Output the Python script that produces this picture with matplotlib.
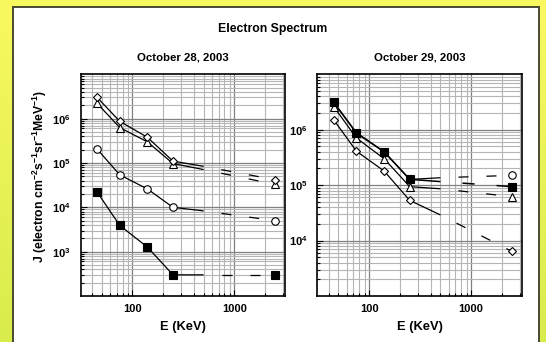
import numpy as np
import matplotlib
matplotlib.use("Agg")
import matplotlib.pyplot as plt
from matplotlib.colors import LinearSegmentedColormap
from matplotlib.patches import Rectangle
from matplotlib.ticker import FixedLocator, LogLocator, NullFormatter, FuncFormatter

plt.rcParams['font.family'] = ['Liberation Sans', 'DejaVu Sans']
plt.rcParams['font.weight'] = 'bold'
plt.rcParams['mathtext.fontset'] = 'custom'
plt.rcParams['mathtext.rm'] = 'Liberation Sans:bold'
plt.rcParams['mathtext.bf'] = 'Liberation Sans:bold'
plt.rcParams['mathtext.it'] = 'Liberation Sans:bold'
plt.rcParams['mathtext.default'] = 'bf'

# ---------------- data ----------------
energy = [45, 75, 140, 250, 500, 2500]          # keV
marker_idx = [0, 1, 2, 3, 5]                    # points shown with markers

oct28_diamond = [3.0e6, 8.7e5, 3.8e5, 1.1e5, 8.4e4, 4.2e4]
oct28_triangle = [2.2e6, 6.3e5, 3.0e5, 9.7e4, 7.1e4, 3.3e4]
oct28_circle = [2.05e5, 5.4e4, 2.6e4, 1.0e4, 8.3e3, 5.0e3]
oct28_square = [2.2e4, 3.9e3, 1.27e3, 3.0e2, 3.0e2, 3.0e2]

oct29_circle = [3.1e6, 8.8e5, 4.0e5, 1.27e5, 1.36e5, 1.5e5]
oct29_square = [3.1e6, 8.7e5, 4.0e5, 1.27e5, 1.16e5, 9.4e4]
oct29_triangle = [2.6e6, 7.1e5, 3.0e5, 9.4e4, 8.6e4, 6.2e4]
oct29_diamond = [1.5e6, 4.1e5, 1.8e5, 5.3e4, 2.9e4, 6.4e3]

title = "Electron Spectrum"
subtitles = ["October 28, 2003", "October 29, 2003"]
xlabel = "E (KeV)"
ylabel = r"J (electron cm$^{-2}$s$^{-1}$sr$^{-1}$MeV$^{-1}$)"
x_ticks = [100, 1000]
y_ticks_left = [1e3, 1e4, 1e5, 1e6]
y_ticks_right = [1e4, 1e5, 1e6]

W, H = 546, 342
fig = plt.figure(figsize=(W / 100, H / 100), dpi=100)

# background gradient + white framed panel
bg = fig.add_axes([0, 0, 1, 1], zorder=-10)
bg.set_xlim(0, 1); bg.set_ylim(0, 1); bg.axis('off')
cmap = LinearSegmentedColormap.from_list('yel', ['#f9f95f', '#d8ec4c'])
bg.imshow(np.linspace(0, 1, 256)[:, None], aspect='auto', cmap=cmap,
          extent=[0, 1, 0, 1], origin='upper')
bg.add_patch(Rectangle((13 / W, -0.05), (539 - 13) / W, (H - 7) / H + 0.05,
                       facecolor='white', edgecolor='#3c3c28', lw=1.3,
                       transform=bg.transAxes))

fig.text(273 / W, 1 - 29 / H, title, ha='center', va='center', fontsize=8.8, weight='bold')


def px_axes(x0, x1, y0, y1):
    return [x0 / W, 1 - y1 / H, (x1 - x0) / W, (y1 - y0) / H]


LW = 0.9
dash = (8.0, (8.0, 14.4))


def plot_series(ax, vals, marker, fc, ms, lw=LW, z=3):
    ax.plot(energy[:5], vals[:5], color='black', lw=lw, zorder=z, solid_capstyle='butt')
    ax.plot(energy[4:], vals[4:], color='black', lw=lw, ls=dash, zorder=z)
    ax.plot([energy[i] for i in marker_idx], [vals[i] for i in marker_idx],
            ls='none', marker=marker, ms=ms, mfc=fc, mec='black', mew=0.8, zorder=z + 1)


def fmt_pow(v, pos):
    return r'$10^{%d}$' % int(round(np.log10(v)))


def style(ax, ylim, yticks):
    ax.set_xscale('log'); ax.set_yscale('log')
    ax.set_xlim(31, 3150)
    ax.set_ylim(*ylim)
    ax.xaxis.set_major_locator(FixedLocator(x_ticks))
    ax.xaxis.set_major_formatter(FuncFormatter(lambda v, p: '%d' % v))
    ax.xaxis.set_minor_locator(LogLocator(base=10, subs=np.arange(2, 10)))
    ax.xaxis.set_minor_formatter(NullFormatter())
    ax.yaxis.set_major_locator(FixedLocator(yticks))
    ax.yaxis.set_major_formatter(FuncFormatter(fmt_pow))
    ax.yaxis.set_minor_locator(LogLocator(base=10, subs=np.arange(2, 10), numticks=20))
    ax.yaxis.set_minor_formatter(NullFormatter())
    ax.grid(True, which='minor', color='#b5b5b5', lw=0.8, zorder=0)
    ax.grid(True, which='major', color='#808080', lw=0.9, zorder=0)
    ax.tick_params(which='both', direction='in', top=False, right=False,
                   labelsize=8, width=0.8, color='black')
    ax.tick_params(which='major', length=4)
    ax.tick_params(axis='x', which='major', pad=6)
    ax.tick_params(axis='y', which='major', pad=7)
    ax.tick_params(which='minor', length=2.5)
    for s in ax.spines.values():
        s.set_linewidth(1.2)
    ax.set_axisbelow(True)
    for lab in ax.get_xticklabels() + ax.get_yticklabels():
        lab.set_fontweight('bold')
    ax.set_xlabel(xlabel, fontsize=9.3, weight='bold', labelpad=5)


ax1 = fig.add_axes(px_axes(80.7, 285, 74.3, 296))
style(ax1, (1e2, 1e7), y_ticks_left)
plot_series(ax1, oct28_square, 's', 'black', 5.6)
plot_series(ax1, oct28_circle, 'o', 'white', 5.4)
plot_series(ax1, oct28_triangle, '^', 'white', 5.4)
plot_series(ax1, oct28_diamond, 'D', 'white', 4.4, z=5)

ax2 = fig.add_axes(px_axes(317.3, 522, 74.3, 296))
style(ax2, (1e3, 1e7), y_ticks_right)
plot_series(ax2, oct29_diamond, 'D', 'white', 4.4)
plot_series(ax2, oct29_triangle, '^', 'white', 5.4)
plot_series(ax2, oct29_circle, 'o', 'white', 5.4, z=5)
plot_series(ax2, oct29_square, 's', 'black', 5.6, lw=1.1, z=7)

for ax, sub in zip([ax1, ax2], subtitles):
    bb = ax.get_position()
    fig.text((bb.x0 + bb.x1) / 2, 1 - 58 / H, sub, ha='center', va='center',
             fontsize=8.2, weight='bold')

fig.text(40 / W, 1 - 176 / H, ylabel, rotation=90, ha='center', va='center',
         fontsize=8.8, weight='bold')

fig.savefig('out.png', dpi=100)
